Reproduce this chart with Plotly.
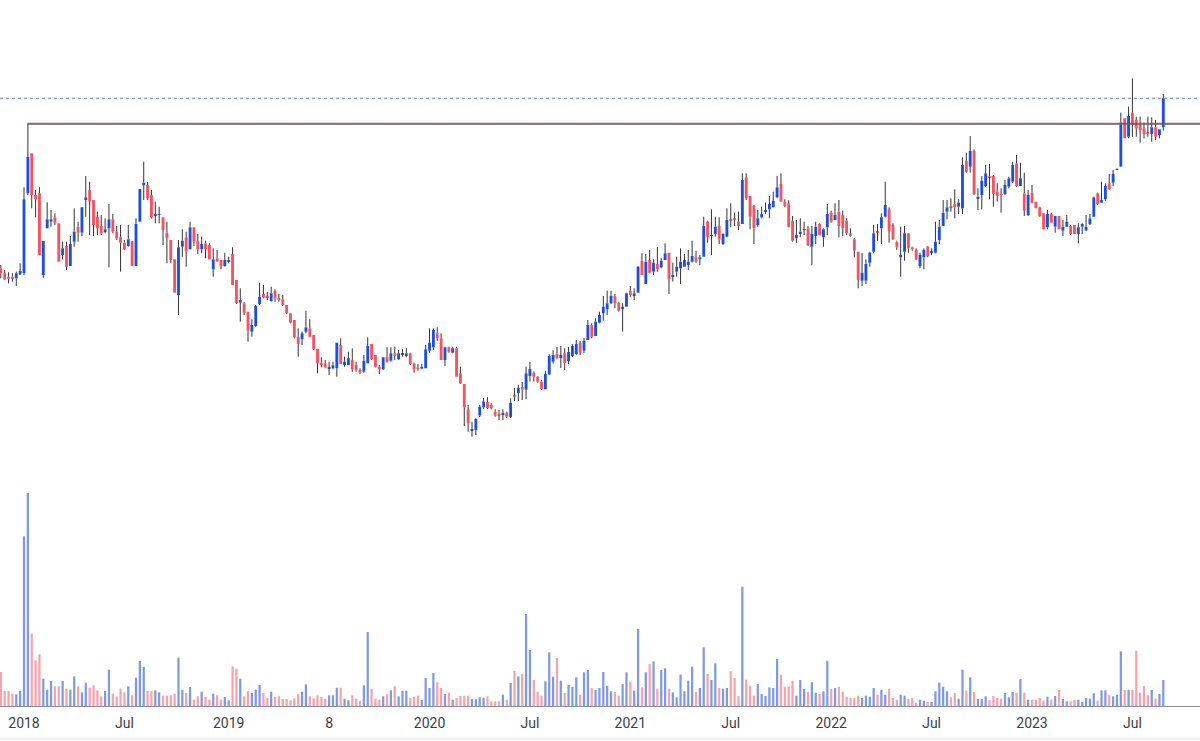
import pandas as pd
import plotly.graph_objects as go

# Weekly bars, first bar week of 2017-11-20
start_date = "2017-11-20"

opens = [
    23.17, 22.67, 22.33, 22.33, 22.17, 22.57, 22.67, 30.67, 34.67, 30.5,
    30.67, 22.5, 27.17, 27.83, 28.27, 27.67, 24.5, 25.4, 23.4, 25.83,
    27.33, 26.73, 30.0, 31.0, 30.0, 28.33, 27.4, 26.8, 27.17, 28.07,
    26.83, 26.33, 25.73, 25.4, 25.9, 23.4, 27.83, 31.47, 31.5, 30.5,
    28.45, 28.5, 28.27, 26.73, 26.0, 24.07, 20.5, 25.33, 26.27, 25.07,
    27.27, 25.93, 25.07, 25.67, 25.5, 23.07, 24.17, 24.0, 23.4, 23.83,
    24.6, 22.0, 19.73, 19.67, 18.83, 16.83, 17.4, 19.6, 20.6, 20.4,
    19.9, 20.93, 20.17, 20.07, 19.5, 18.67, 18.0, 16.33, 16.07, 16.83,
    17.17, 16.5, 15.13, 13.73, 13.67, 13.17, 13.17, 13.17, 15.5, 13.5,
    13.5, 14.0, 13.5, 13.0, 12.83, 13.67, 15.6, 14.5, 13.33, 13.07,
    14.33, 13.93, 14.67, 14.07, 14.5, 14.4, 14.67, 13.67, 13.27, 13.13,
    13.17, 14.93, 15.27, 16.67, 16.17, 14.0, 15.27, 14.73, 15.17, 12.67,
    11.6, 9.07, 6.93, 7.0, 8.45, 9.27, 9.8, 9.5, 8.83, 8.6,
    8.55, 8.73, 8.3, 10.5, 10.7, 11.3, 11.03, 12.4, 12.75, 12.33,
    11.83, 11.07, 12.55, 13.83, 14.63, 14.17, 14.67, 13.9, 14.4, 14.6,
    15.7, 14.93, 16.0, 17.5, 16.4, 17.73, 18.67, 19.07, 19.67, 20.4,
    19.73, 19.07, 19.33, 20.93, 20.4, 20.73, 23.93, 21.6, 24.0, 22.83,
    23.6, 23.27, 24.0, 24.73, 22.33, 22.83, 23.17, 23.33, 23.5, 23.83,
    24.27, 24.07, 24.33, 27.83, 26.4, 26.6, 27.4, 25.6, 26.33, 28.07,
    28.17, 27.83, 27.6, 32.27, 30.4, 29.4, 27.5, 28.27, 28.83, 29.07,
    29.27, 30.27, 31.6, 29.83, 29.67, 27.93, 26.17, 26.6, 27.0, 27.17,
    25.33, 26.4, 27.6, 26.27, 27.27, 28.73, 28.0, 28.83, 28.5, 27.93,
    26.67, 26.07, 24.83, 21.93, 21.93, 23.73, 24.83, 26.83, 27.17, 28.33,
    29.07, 27.5, 25.83, 24.27, 24.83, 26.67, 25.27, 25.0, 23.4, 24.27,
    25.33, 24.73, 24.73, 26.0, 27.4, 28.83, 29.4, 29.6, 29.33, 29.17,
    33.93, 33.33, 34.93, 30.17, 30.5, 31.4, 32.4, 32.4, 30.83, 30.6,
    30.6, 31.33, 31.83, 33.67, 31.4, 30.67, 28.5, 30.73, 29.83, 29.27,
    28.67, 27.27, 28.6, 27.33, 28.4, 26.93, 27.33, 27.4, 27.5, 26.6,
    27.33, 26.93, 27.6, 28.33, 30.67, 29.73, 30.07, 31.67, 31.73, 33.0,
    33.33, 38.17, 36.33, 38.73, 38.0, 37.5, 37.17, 36.73, 36.6, 37.27,
    36.5, 37.27,
]

highs = [
    23.5, 23.0, 22.77, 22.67, 22.83, 23.67, 31.27, 37.67, 34.67, 31.0,
    31.27, 25.9, 29.77, 29.0, 28.67, 27.67, 25.83, 25.83, 26.4, 29.17,
    27.83, 29.27, 32.4, 31.83, 30.0, 28.83, 28.5, 28.17, 29.6, 28.6,
    27.4, 27.5, 26.0, 27.5, 25.9, 28.17, 31.1, 33.83, 31.8, 31.0,
    29.83, 29.33, 28.27, 27.83, 26.0, 24.07, 26.0, 27.07, 26.83, 27.83,
    27.27, 26.6, 26.33, 25.93, 25.67, 25.17, 25.0, 24.0, 24.73, 24.33,
    25.27, 22.0, 21.17, 19.83, 18.83, 18.07, 19.5, 21.73, 21.5, 20.83,
    21.33, 21.07, 20.6, 20.5, 19.5, 18.67, 18.0, 17.17, 16.83, 18.93,
    18.07, 16.5, 15.13, 14.27, 14.0, 13.83, 13.83, 15.73, 16.17, 14.33,
    14.83, 15.17, 13.83, 13.17, 14.5, 16.27, 15.6, 14.5, 13.5, 14.27,
    15.27, 15.27, 15.33, 15.0, 15.07, 15.17, 14.73, 13.73, 13.6, 13.6,
    15.5, 17.17, 17.17, 17.27, 16.67, 15.33, 15.33, 15.33, 15.33, 13.33,
    11.6, 9.5, 7.83, 8.17, 9.5, 10.2, 10.27, 9.67, 9.07, 9.0,
    9.07, 8.83, 10.17, 11.2, 11.5, 11.8, 13.33, 13.8, 12.85, 12.4,
    12.0, 12.93, 14.57, 14.97, 15.3, 15.4, 15.17, 15.3, 15.6, 16.0,
    15.9, 16.2, 18.0, 17.67, 18.17, 18.83, 20.4, 20.93, 20.93, 20.6,
    19.83, 19.67, 20.73, 21.4, 21.17, 23.4, 24.67, 24.6, 25.0, 24.07,
    25.27, 24.17, 25.67, 24.73, 23.73, 24.33, 25.17, 24.6, 25.0, 25.93,
    24.93, 24.5, 28.33, 27.93, 29.07, 28.33, 28.27, 26.67, 29.17, 29.67,
    28.73, 28.83, 32.67, 32.67, 30.4, 29.5, 29.0, 29.33, 29.73, 30.4,
    30.83, 32.4, 32.67, 30.07, 30.0, 28.4, 28.0, 28.17, 27.83, 27.4,
    27.4, 27.83, 27.67, 27.17, 29.6, 28.93, 29.67, 30.0, 28.93, 28.17,
    27.17, 26.17, 24.83, 24.73, 24.07, 24.83, 27.5, 27.6, 28.67, 31.83,
    29.27, 27.67, 25.93, 27.33, 27.4, 26.5, 25.33, 25.17, 24.73, 25.17,
    25.4, 25.17, 27.83, 28.0, 30.0, 30.0, 30.17, 31.07, 30.07, 34.27,
    34.73, 36.4, 35.07, 31.17, 32.4, 33.5, 33.6, 32.5, 31.67, 31.17,
    32.0, 32.33, 33.83, 34.5, 33.73, 32.73, 31.0, 31.5, 29.83, 29.33,
    28.67, 29.0, 28.73, 28.33, 28.4, 28.0, 28.5, 27.5, 27.5, 27.67,
    27.67, 28.5, 28.6, 30.33, 30.73, 31.83, 31.67, 32.6, 33.0, 33.17,
    38.73, 38.17, 39.33, 42.17, 38.33, 38.33, 37.73, 38.33, 38.27, 38.0,
    37.07, 40.6,
]

lows = [
    22.17, 22.0, 21.67, 21.83, 21.4, 22.5, 22.5, 30.5, 29.17, 28.27,
    24.5, 22.23, 27.17, 27.33, 27.5, 23.83, 24.07, 23.0, 23.4, 25.33,
    25.83, 26.4, 28.33, 26.5, 26.4, 26.5, 26.5, 26.67, 23.27, 26.67,
    26.0, 22.83, 25.0, 25.33, 23.4, 23.4, 27.83, 30.0, 30.0, 28.17,
    27.67, 27.67, 25.5, 23.67, 23.67, 20.73, 18.5, 24.33, 23.33, 25.07,
    25.4, 24.6, 24.67, 24.17, 24.07, 22.33, 23.83, 23.07, 23.33, 23.67,
    21.5, 19.6, 17.83, 18.5, 15.83, 16.33, 17.33, 19.5, 20.17, 20.0,
    19.83, 19.83, 19.83, 19.4, 18.6, 17.67, 16.17, 14.33, 15.5, 16.67,
    16.27, 15.0, 12.67, 13.27, 13.17, 12.5, 13.07, 12.33, 13.6, 13.33,
    13.5, 12.83, 12.83, 12.6, 12.73, 13.67, 14.0, 13.27, 12.6, 13.0,
    13.73, 13.83, 14.0, 14.0, 14.33, 14.27, 13.5, 12.73, 12.93, 13.07,
    13.17, 14.73, 15.0, 15.93, 14.0, 13.4, 14.73, 14.67, 12.33, 11.6,
    7.4, 6.83, 6.33, 6.5, 8.3, 9.1, 9.1, 9.07, 8.33, 8.0,
    8.0, 8.2, 8.2, 9.9, 9.9, 10.0, 10.1, 11.85, 11.85, 11.73,
    11.0, 11.07, 12.5, 13.65, 14.07, 13.2, 13.0, 13.6, 14.3, 14.5,
    14.5, 14.7, 16.0, 16.17, 16.4, 17.67, 17.93, 18.5, 19.6, 19.17,
    18.83, 16.83, 19.33, 20.33, 20.0, 20.73, 22.5, 21.6, 22.67, 22.5,
    22.83, 23.17, 24.0, 20.6, 21.83, 22.33, 21.6, 23.33, 23.0, 23.73,
    23.73, 23.5, 24.33, 25.73, 24.5, 26.33, 25.6, 25.5, 26.27, 27.27,
    27.4, 27.0, 27.6, 30.0, 27.07, 25.6, 27.33, 28.17, 28.6, 28.17,
    29.27, 30.17, 29.83, 29.27, 27.27, 25.83, 25.73, 26.27, 26.5, 25.4,
    23.5, 25.6, 26.5, 25.33, 26.5, 27.73, 28.0, 26.27, 26.4, 26.5,
    26.33, 24.27, 21.17, 21.4, 21.6, 23.33, 24.67, 25.93, 25.6, 28.27,
    25.73, 26.0, 25.0, 22.33, 23.93, 24.73, 24.93, 24.0, 23.17, 23.07,
    24.27, 24.5, 24.67, 25.6, 27.4, 28.07, 28.83, 28.17, 28.6, 28.6,
    32.73, 32.73, 30.5, 29.0, 29.07, 31.33, 30.07, 29.33, 29.83, 28.73,
    30.5, 31.17, 31.67, 31.33, 31.4, 28.4, 28.4, 29.67, 29.17, 28.33,
    27.07, 27.07, 27.73, 26.73, 27.07, 26.4, 27.33, 26.5, 26.6, 25.67,
    26.6, 26.93, 27.5, 28.33, 29.5, 29.73, 29.93, 31.0, 31.4, 33.0,
    33.33, 36.17, 36.17, 36.33, 36.33, 35.73, 36.17, 36.33, 35.83, 36.0,
    36.17, 36.93,
]

closes = [
    22.67, 22.07, 22.13, 22.1, 22.67, 22.9, 30.07, 34.33, 30.5, 30.07,
    24.5, 25.9, 28.07, 28.07, 27.73, 23.83, 25.17, 23.33, 25.6, 26.83,
    26.73, 29.27, 30.27, 29.83, 27.5, 27.17, 26.67, 27.07, 28.07, 26.83,
    26.17, 25.73, 25.07, 26.07, 23.4, 27.6, 31.1, 31.73, 30.17, 28.27,
    28.55, 28.57, 27.0, 26.17, 24.0, 20.73, 25.27, 25.93, 24.83, 27.27,
    25.83, 25.07, 25.6, 25.07, 24.07, 24.07, 23.83, 23.33, 24.0, 24.0,
    21.5, 19.7, 20.0, 18.73, 16.93, 17.5, 19.4, 20.33, 20.27, 20.27,
    20.67, 20.17, 20.0, 19.5, 18.67, 17.73, 16.27, 15.6, 16.67, 17.27,
    16.33, 15.07, 13.67, 13.5, 13.27, 13.33, 13.47, 15.73, 13.6, 13.83,
    14.17, 13.07, 13.0, 12.73, 13.93, 15.4, 14.07, 13.33, 13.07, 14.27,
    13.83, 14.67, 14.4, 14.67, 14.67, 14.67, 13.6, 13.07, 13.07, 13.33,
    15.07, 15.73, 17.0, 16.17, 14.0, 15.27, 14.83, 15.17, 12.33, 11.67,
    9.27, 7.67, 7.1, 8.1, 9.33, 9.85, 9.2, 9.17, 8.45, 8.43,
    8.73, 8.33, 9.73, 10.27, 11.2, 11.03, 12.67, 13.1, 12.33, 11.83,
    11.1, 12.6, 14.4, 14.5, 14.17, 14.5, 13.7, 14.8, 15.4, 15.6,
    14.7, 15.93, 17.5, 16.33, 17.83, 18.5, 19.33, 19.67, 20.4, 19.67,
    18.93, 19.33, 20.67, 20.5, 20.67, 23.33, 22.5, 23.83, 22.73, 23.73,
    23.07, 23.93, 24.67, 22.07, 22.5, 23.33, 23.83, 24.0, 23.83, 24.4,
    23.83, 24.27, 27.4, 26.27, 26.5, 27.33, 26.05, 26.6, 28.0, 27.93,
    28.0, 27.4, 32.0, 30.17, 28.33, 27.17, 28.17, 28.6, 29.0, 29.6,
    29.93, 31.27, 29.83, 29.4, 27.27, 25.93, 26.5, 26.83, 27.07, 25.5,
    26.6, 27.33, 26.5, 27.07, 28.6, 27.83, 28.5, 27.4, 27.17, 26.67,
    26.4, 24.93, 22.0, 22.73, 23.6, 24.73, 26.67, 26.73, 28.27, 29.5,
    26.83, 26.07, 25.27, 24.5, 26.67, 25.17, 25.07, 24.07, 24.5, 25.0,
    24.4, 24.87, 25.83, 27.33, 28.73, 29.27, 29.27, 29.27, 29.73, 33.5,
    32.83, 34.93, 30.6, 30.33, 31.93, 32.67, 32.27, 30.6, 30.4, 30.5,
    31.5, 32.17, 33.5, 31.4, 32.17, 28.93, 30.5, 29.73, 29.17, 28.4,
    27.07, 28.6, 27.73, 28.4, 27.07, 27.33, 27.83, 26.6, 26.6, 27.27,
    27.6, 27.33, 28.17, 30.27, 29.6, 30.0, 31.4, 31.07, 32.6, 33.07,
    37.73, 36.17, 38.4, 37.5, 37.17, 37.0, 36.6, 36.6, 37.27, 36.33,
    37.07, 40.17,
]

volumes = [
    34, 15, 15, 12.3, 11.7, 15, 169.7, 213, 72.3, 45.7,
    51.7, 27.3, 16.3, 25, 19.7, 19.7, 25, 17.3, 16.3, 29.7,
    19.7, 13.7, 23.3, 18.3, 20.7, 15.7, 9.7, 15, 36.3, 12.3,
    9.7, 17.3, 13.7, 19.7, 10.7, 28.3, 45, 39, 15, 15,
    15.7, 13.7, 10.3, 10.3, 10.7, 12.3, 48.3, 16.3, 13, 19,
    6.3, 9.7, 14.3, 9, 6.3, 12.3, 10.7, 6.3, 9, 5.7,
    39.7, 37.3, 27.3, 9.7, 15, 13, 16.3, 21, 13, 8,
    14.3, 9, 9.7, 7, 7, 5.7, 7.7, 11.7, 14.3, 21.7,
    9.7, 7.7, 10.7, 9, 7.3, 10.7, 10.7, 18.3, 18.3, 7.3,
    5.7, 10.7, 7.3, 5, 20.7, 74, 17.3, 7.3, 6.3, 9.7,
    11.7, 15.7, 19.7, 9.7, 15.3, 15.3, 8, 9.3, 10.3, 6,
    28, 18, 33, 23.7, 18, 12, 13.3, 6.3, 8, 10,
    10.3, 10.3, 7, 6.7, 8.7, 8.3, 9.7, 4.7, 4.7, 4.7,
    11.3, 6.3, 23, 35.3, 29.7, 32, 92, 56, 26, 14.3,
    10.3, 24.7, 53.7, 29.3, 48, 25.3, 13, 21, 19.3, 28.7,
    11.3, 33.7, 36, 18, 16, 18, 34, 20.3, 14.7, 14,
    10.3, 22, 33.7, 24.3, 15.3, 77, 18.7, 33.7, 42, 44.7,
    17.3, 36, 37.7, 17.3, 13.7, 8.7, 31.3, 14.7, 25.3, 39.3,
    14, 18, 58.7, 32, 26, 42.7, 18, 17.3, 18, 34.7,
    28, 10, 119.3, 26.3, 20.3, 10.3, 22, 12, 10, 18.7,
    18, 47, 31.3, 19.3, 19.3, 25.3, 10.3, 26, 17, 14.3,
    23.7, 13.3, 12, 14.7, 45.3, 17.3, 18, 19.3, 14.3, 9.3,
    8, 8, 10.3, 8, 10.3, 9.3, 18, 11.3, 16.3, 11.3,
    17, 8, 6.3, 11.3, 10.3, 7, 8, 3.3, 6.3, 5.3,
    4, 4, 14.7, 23.3, 19.3, 14.7, 8.7, 13, 7.3, 36.3,
    15.3, 28.7, 14, 7, 7, 9.7, 6, 10, 8, 7.3,
    13, 8.7, 14, 13.3, 27, 13.3, 6.3, 6.3, 6.3, 8,
    5.3, 9.3, 6.3, 10, 16, 7, 4.7, 4.7, 6.3, 6.3,
    4, 8, 7.3, 12.7, 5.3, 15.7, 15.7, 11.3, 9.7, 11.3,
    54.7, 16, 16.3, 16.3, 55.3, 13.3, 20, 10.7, 16, 7.3,
    12, 26,
]

tick_dates = ["2018-01-01", "2018-07-02", "2019-01-07", "2019-07-08",
              "2020-01-06", "2020-07-06", "2021-01-04", "2021-07-05",
              "2022-01-03", "2022-07-04", "2023-01-02", "2023-07-03"]
tick_labels = ["2018", "Jul", "2019", "8", "2020", "Jul", "2021", "Jul",
               "2022", "Jul", "2023", "Jul"]

breakout_bar = 7  # index of the Jan-2018 spike bar whose high forms the resistance line

n = min(len(opens), len(highs), len(lows), len(closes), len(volumes))
dates = pd.date_range(start_date, periods=n, freq="7D")
dstr = [d.strftime("%Y-%m-%d") for d in dates]

BLUE = "#1f4fd8"
RED = "#f7525f"
VBLUE = "#7f9ae4"
VRED = "#f7a3aa"
WICK = "#333333"

up = [closes[i] >= opens[i] for i in range(n)]
body_base = [min(opens[i], closes[i]) for i in range(n)]
body_len = [max(abs(closes[i] - opens[i]), 0.08) for i in range(n)]
body_col = [BLUE if u else RED for u in up]
vol_col = [VBLUE if u else VRED for u in up]

wx, wy = [], []
for i in range(n):
    top = max(opens[i], closes[i])
    bot = min(opens[i], closes[i])
    wx += [dstr[i], dstr[i], None, dstr[i], dstr[i], None]
    wy += [max(highs[i], top), top, None, bot, min(lows[i], bot), None]

week_ms = 7 * 24 * 3600 * 1000

fig = go.Figure()
fig.add_trace(go.Bar(x=dstr, y=volumes[:n], yaxis="y2", marker_color=vol_col,
                     marker_line_width=0, width=week_ms * 0.58, hoverinfo="skip"))
fig.add_trace(go.Bar(x=dstr, y=body_len, base=body_base, marker_color=body_col,
                     marker_line_width=0, width=week_ms * 0.74, hoverinfo="skip"))
fig.add_trace(go.Scatter(x=wx, y=wy, mode="lines", line=dict(color=WICK, width=1),
                         hoverinfo="skip", connectgaps=False))

x0 = pd.Timestamp("2018-01-01") - pd.Timedelta(days=43.5)
x1 = pd.Timestamp("2018-01-01") + pd.Timedelta(days=2131.5)

y_lo, y_hi = -20.6, 50.0
plot_h = 706
px = (y_hi - y_lo) / plot_h

res_level = highs[breakout_bar]
last_close = closes[n - 1]

shapes = [
    dict(type="line", xref="x", yref="y", x0=dstr[breakout_bar], x1=x1,
         y0=res_level - px, y1=res_level - px, line=dict(color="#6a6a6a", width=1)),
    dict(type="line", xref="x", yref="y", x0=dstr[breakout_bar], x1=x1,
         y0=res_level, y1=res_level, line=dict(color="#b8333d", width=1)),
    dict(type="line", xref="paper", yref="y", x0=0, x1=1,
         y0=last_close, y1=last_close, line=dict(color="#5f82e6", width=1, dash="dot")),
    dict(type="line", xref="paper", yref="paper", x0=0, x1=1,
         y0=-33 / plot_h, y1=-33 / plot_h, line=dict(color="#e0e3eb", width=1)),
]

fig.update_layout(
    width=1200, height=741,
    margin=dict(l=0, r=0, t=0, b=35),
    paper_bgcolor="white", plot_bgcolor="white",
    showlegend=False, barmode="overlay",
    shapes=shapes,
    xaxis=dict(type="date", range=[x0, x1], tickmode="array",
               tickvals=tick_dates, ticktext=tick_labels,
               showgrid=False, zeroline=False, showline=True,
               linecolor="#8a8d96", linewidth=1, ticks="",
               ticklabelstandoff=4,
               tickfont=dict(family="Roboto", size=14, color="#3b3e48")),
    yaxis=dict(range=[y_lo, y_hi], visible=False, showgrid=False, zeroline=False),
    yaxis2=dict(range=[0, plot_h], overlaying="y", visible=False,
                showgrid=False, zeroline=False),
)

fig.write_html("out.html")
